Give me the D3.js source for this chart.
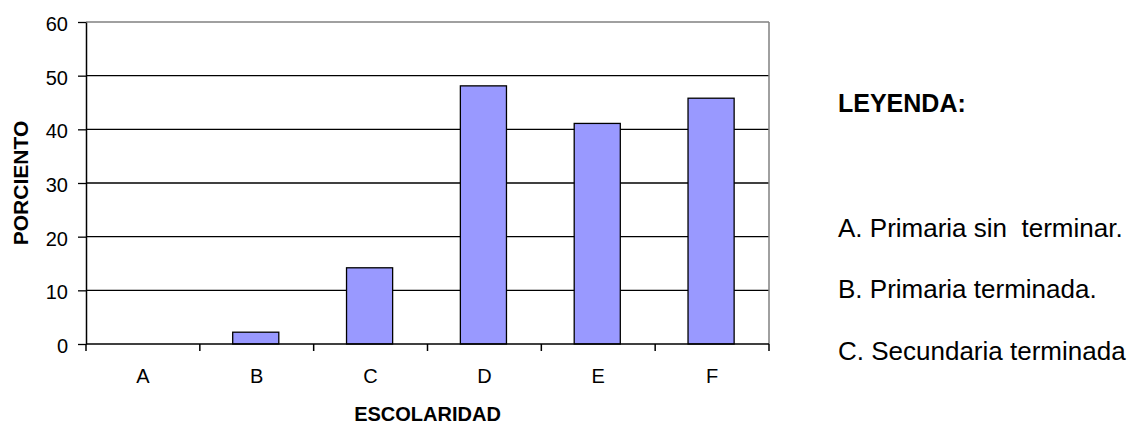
<!DOCTYPE html>
<html>
<head>
<meta charset="utf-8">
<script src="https://cdn.jsdelivr.net/npm/d3@7"></script>
<style>
  html, body { margin: 0; padding: 0; background: #fff; }
  svg { display: block; font-family: "Liberation Sans", Arial, sans-serif; }
</style>
</head>
<body>
<svg id="chart" width="1134" height="425"></svg>
<script>
const categories = ["A", "B", "C", "D", "E", "F"];
const values = [0, 2.2, 14.2, 48.1, 41.1, 45.8];
const yTicks = [0, 10, 20, 30, 40, 50, 60];
const legendTitle = "LEYENDA:";
const legendItems = ["A. Primaria sin\u00a0 terminar.", "B. Primaria terminada.", "C. Secundaria terminada"];
const xTitle = "ESCOLARIDAD";
const yTitle = "PORCIENTO";

const svg = d3.select("#chart");
const plotLeft = 86, plotRight = 769, plotTop = 22, plotBottom = 344;

const x = d3.scaleBand().domain(categories).range([plotLeft, plotRight]).paddingInner(0).paddingOuter(0);
const y = d3.scaleLinear().domain([0, 60]).range([plotBottom, plotTop]);

// gridlines
svg.append("g").selectAll("line")
  .data(yTicks.filter(t => t > 0 && t < 60))
  .join("line")
  .attr("x1", plotLeft).attr("x2", plotRight)
  .attr("y1", d => y(d)).attr("y2", d => y(d))
  .attr("stroke", "#000").attr("stroke-width", 1.3);

// plot border top & right (grey)
svg.append("line").attr("x1", plotLeft).attr("x2", plotRight).attr("y1", y(60)).attr("y2", y(60))
  .attr("stroke", "#808080").attr("stroke-width", 1.5);
svg.append("line").attr("x1", plotRight).attr("x2", plotRight).attr("y1", y(60)).attr("y2", y(0))
  .attr("stroke", "#808080").attr("stroke-width", 1.5);

// bars
const barW = x.bandwidth() * 0.405;
svg.append("g").selectAll("rect")
  .data(categories.map((c, i) => ({c, v: values[i]})).filter(d => d.v > 0))
  .join("rect")
  .attr("x", d => x(d.c) + x.bandwidth() / 2 - barW / 2 - 1)
  .attr("y", d => y(d.v))
  .attr("width", barW)
  .attr("height", d => y(0) - y(d.v))
  .attr("fill", "#9999FF")
  .attr("stroke", "#000").attr("stroke-width", 1.3);

// y axis
const yAxis = svg.append("g").attr("transform", `translate(${plotLeft},0)`)
  .call(d3.axisLeft(y).tickValues(yTicks).tickSize(8).tickPadding(10).tickSizeOuter(0));
yAxis.select(".domain").attr("stroke", "#000").attr("stroke-width", 1.5);
yAxis.selectAll(".tick line").attr("stroke", "#000").attr("stroke-width", 1.3);
yAxis.selectAll(".tick text").attr("font-size", "20px").attr("fill", "#000")
  .attr("font-family", "'Liberation Sans', Arial, sans-serif").attr("dy", "0.42em");

// x axis
const xAxis = svg.append("g").attr("transform", `translate(0,${plotBottom})`)
  .call(d3.axisBottom(x).tickSize(0).tickPadding(39));
xAxis.select(".domain").remove();
xAxis.selectAll(".tick text").attr("font-size", "20px").attr("fill", "#000")
  .attr("font-family", "'Liberation Sans', Arial, sans-serif").attr("dy", "0");
svg.append("line").attr("x1", plotLeft).attr("x2", plotRight).attr("y1", plotBottom).attr("y2", plotBottom)
  .attr("stroke", "#000").attr("stroke-width", 1.5);
// category boundary ticks
const boundaries = categories.map(c => x(c)).concat([plotRight]);
svg.append("g").selectAll("line").data(boundaries).join("line")
  .attr("x1", d => d).attr("x2", d => d).attr("y1", plotBottom).attr("y2", plotBottom + 7)
  .attr("stroke", "#000").attr("stroke-width", 1.5);

// axis titles
svg.append("text").attr("x", (plotLeft + plotRight) / 2).attr("y", 420.5)
  .attr("text-anchor", "middle").attr("font-weight", "bold").attr("font-size", "20px")
  .text(xTitle);
svg.append("text").attr("transform", `translate(28,${(plotTop + plotBottom) / 2}) rotate(-90)`)
  .attr("text-anchor", "middle").attr("font-weight", "bold").attr("font-size", "21px")
  .text(yTitle);

// legend
svg.append("text").attr("x", 838).attr("y", 112).attr("font-weight", "bold")
  .attr("font-size", "25px").text(legendTitle);
const legendY = [236.5, 298, 359.5];
svg.append("g").selectAll("text").data(legendItems).join("text")
  .attr("x", 838).attr("y", (d, i) => legendY[i])
  .attr("font-size", "26px")
  .text(d => d);
</script>
</body>
</html>
